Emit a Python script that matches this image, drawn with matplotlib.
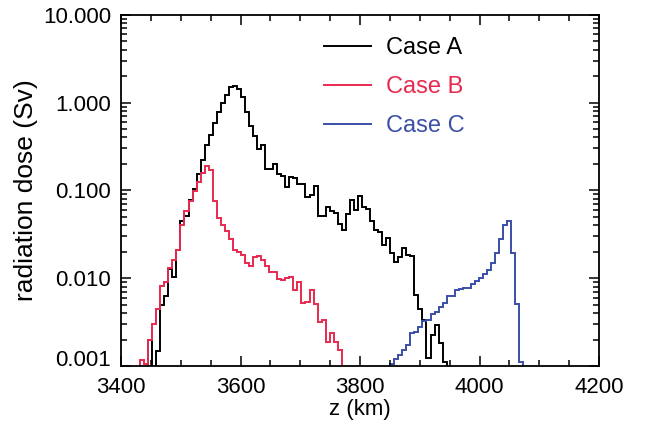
import numpy as np
import matplotlib
matplotlib.use("Agg")
import matplotlib.pyplot as plt
from matplotlib.ticker import FixedLocator, LogLocator, MultipleLocator, FuncFormatter
from matplotlib.transforms import ScaledTranslation

plt.rcParams["font.family"] = ["Liberation Sans", "DejaVu Sans"]

# ---------------------------------------------------------------- data
BIN_KM = 6.75                     # histogram bin width (km)

# dose per bin (Sv); each series starts at its own left bin edge
CASE_A_START = 3445.5
case_a = [
    0.0020, 1e-4, 0.00150, 0.0050, 0.0062, 0.0127, 0.0102, 0.0210,
    0.0451, 0.0505, 0.0783, 0.103, 0.152, 0.223, 0.330, 0.429, 0.582, 0.790,
    0.983, 1.22, 1.49, 1.55, 1.42, 1.17, 0.790, 0.534, 0.411, 0.295,
    0.330, 0.175, 0.175, 0.201, 0.152, 0.145, 0.109, 0.142, 0.140, 0.117,
    0.117, 0.0832, 0.0893, 0.113, 0.0505, 0.0505, 0.0646, 0.0576, 0.0551, 0.0417,
    0.0356, 0.0542, 0.0769, 0.0601, 0.0855, 0.0646, 0.0612, 0.0443, 0.0356, 0.0332,
    0.0240, 0.0286, 0.0196, 0.0151, 0.0174, 0.0220, 0.0185, 0.0177, 0.00645, 0.00443,
    0.00335, 0.00124, 0.00226, 0.00294, 0.00185, 0.00112,
]

CASE_B_START = 3432.0
case_b = [
    0.00117, 0.00105, 0.0020, 0.0030, 0.0045, 0.00818, 0.00916, 0.0130, 0.0162, 0.0210,
    0.0406, 0.0586, 0.0749, 0.0975, 0.124, 0.158, 0.191, 0.172, 0.0749, 0.0483,
    0.0406, 0.0340, 0.0279, 0.0210, 0.0201, 0.0184, 0.0148, 0.0136, 0.0174, 0.0180,
    0.0162, 0.0136, 0.0119, 0.0119, 0.00975, 0.00957, 0.0100, 0.0103, 0.00736, 0.00916,
    0.00527, 0.00542, 0.00736, 0.00509, 0.00321, 0.00335, 0.00190, 0.00240, 0.00190, 0.00152,
]

CASE_C_START = 3850.5
case_c = [
    0.00105, 0.00119, 0.00135, 0.00151, 0.00172, 0.00237, 0.00243, 0.00277, 0.00329, 0.00334,
    0.00391, 0.00408, 0.00464, 0.00528, 0.00628, 0.00628, 0.00727, 0.00746, 0.00765, 0.00779,
    0.00849, 0.00925, 0.0101, 0.0112, 0.0125, 0.0149, 0.0196, 0.0279, 0.0401, 0.0445,
    0.0196, 0.00506, 0.00112,
]

series = [
    ("Case A", CASE_A_START, case_a, "#000000"),
    ("Case B", CASE_B_START, case_b, "#e8294f"),
    ("Case C", CASE_C_START, case_c, "#3b4fa8"),
]

x_ticks = [3400, 3600, 3800, 4000, 4200]
y_ticks = [0.001, 0.01, 0.1, 1.0, 10.0]

# ---------------------------------------------------------------- figure
W, H = 645, 426
fig = plt.figure(figsize=(W / 100, H / 100), dpi=100)
ax = fig.add_axes([121 / W, 1 - 366 / H, (599 - 121) / W, (366 - 14.7) / H])

for label, start, vals, color in series:
    vals = np.asarray(vals)
    edges = start + BIN_KM * np.arange(len(vals) + 1)
    ax.stairs(vals, edges, baseline=1e-5, color=color, lw=1.4, label=label)

ax.set_yscale("log")
ax.set_xlim(3400, 4200)
ax.set_ylim(0.001, 10)

ax.xaxis.set_major_locator(FixedLocator(x_ticks))
ax.xaxis.set_minor_locator(MultipleLocator(50))
ax.yaxis.set_major_locator(FixedLocator(y_ticks))
ax.yaxis.set_minor_locator(LogLocator(base=10, subs=np.arange(2, 10)))
ax.yaxis.set_major_formatter(FuncFormatter(lambda v, p: f"{v:.3f}"))
ax.yaxis.set_minor_formatter(FuncFormatter(lambda v, p: ""))

ax.tick_params(which="both", direction="in", top=True, right=True,
               labelsize=16, width=1.1)
ax.tick_params(which="major", length=7)
ax.tick_params(which="minor", length=4)
ax.tick_params(axis="y", pad=7)
ax.tick_params(axis="x", pad=8)
for s in ax.spines.values():
    s.set_linewidth(1.3)

# bottom y label sits a little above its tick, as in the original
bottom_lbl = ax.yaxis.get_major_ticks()[0].label1
bottom_lbl.set_transform(bottom_lbl.get_transform()
                         + ScaledTranslation(0, 0.08, fig.dpi_scale_trans))

ax.set_xlabel("z (km)", fontsize=16, labelpad=1)
ax.set_ylabel("radiation dose (Sv)", fontsize=19, labelpad=4)

leg = ax.legend(loc="upper left", bbox_to_anchor=(324 / W, 1 - 37 / H),
                bbox_transform=fig.transFigure, frameon=False, fontsize=17,
                handlelength=2.0, handletextpad=0.62, labelspacing=0.72,
                borderpad=0, borderaxespad=0)
for txt, (_, _, _, color) in zip(leg.get_texts(), series):
    txt.set_color(color)

fig.savefig("out.png", dpi=100)
